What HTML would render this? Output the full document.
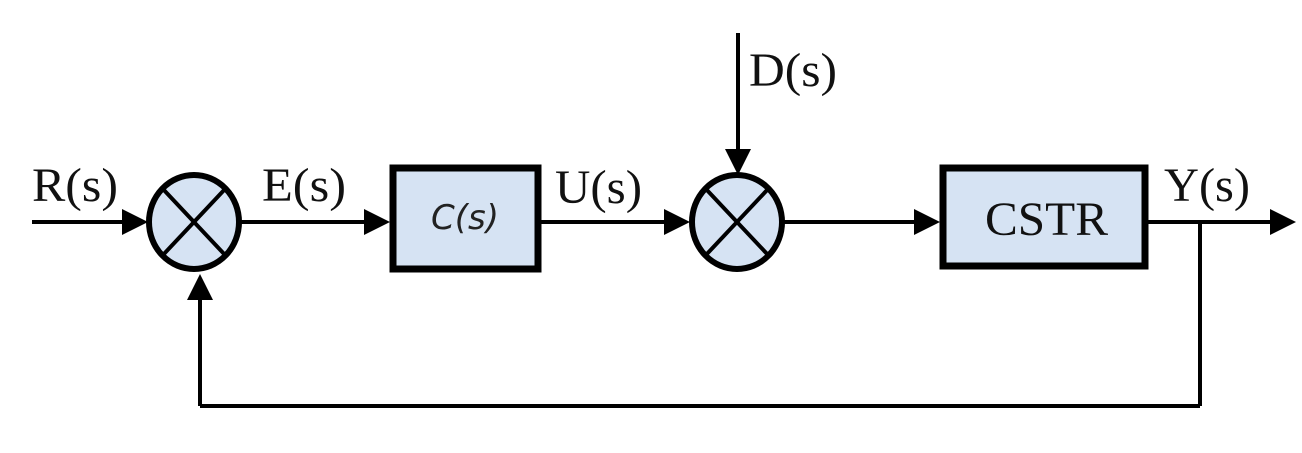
<!DOCTYPE html>
<html><head><meta charset="utf-8"><style>html,body{margin:0;padding:0;background:#fff;}</style></head>
<body>
<svg width="1302" height="448" viewBox="0 0 1302 448" xmlns="http://www.w3.org/2000/svg">
<g stroke="#000" stroke-width="4" fill="none">
<line x1="32" y1="222" x2="125" y2="222"/>
<line x1="240" y1="222" x2="370" y2="222"/>
<line x1="541" y1="222" x2="672" y2="222"/>
<line x1="784" y1="222" x2="920" y2="222"/>
<line x1="1148" y1="222" x2="1275" y2="222"/>
<line x1="738" y1="33" x2="738" y2="155"/>
<line x1="1200" y1="222" x2="1200" y2="406"/>
<line x1="1200" y1="406" x2="200" y2="406"/>
<line x1="200" y1="406" x2="200" y2="298"/>
</g>
<g fill="#000">
<polygon points="148,222 122,209 122,235"/>
<polygon points="390,222 364,209 364,235"/>
<polygon points="690,222 664,209 664,235"/>
<polygon points="940,222 914,209 914,235"/>
<polygon points="1296,222 1270,209 1270,235"/>
<polygon points="738,175 725,149 751,149"/>
<polygon points="200,274 187,300 213,300"/>
</g>
<g stroke="#000" stroke-width="6" fill="#d6e3f3">
<ellipse cx="194" cy="222" rx="45" ry="47"/>
<ellipse cx="737" cy="222" rx="45" ry="47"/>
</g>
<g stroke="#000" stroke-width="7" fill="#d6e3f3">
<rect x="393" y="168" width="145" height="101"/>
<rect x="943" y="168" width="202" height="98"/>
</g>
<g stroke="#000" stroke-width="4">
<line x1="162" y1="188" x2="226" y2="256"/>
<line x1="226" y1="188" x2="162" y2="256"/>
<line x1="705" y1="188" x2="769" y2="256"/>
<line x1="769" y1="188" x2="705" y2="256"/>
</g>
<g font-family="Liberation Serif, serif" font-size="48" fill="#111">
<text x="32" y="201" textLength="86" lengthAdjust="spacingAndGlyphs">R(s)</text>
<text x="262" y="201" textLength="84" lengthAdjust="spacingAndGlyphs">E(s)</text>
<text x="555" y="203" textLength="87" lengthAdjust="spacingAndGlyphs">U(s)</text>
<text x="749" y="86" textLength="88" lengthAdjust="spacingAndGlyphs">D(s)</text>
<text x="1164" y="201" textLength="86" lengthAdjust="spacingAndGlyphs">Y(s)</text>
<text x="985" y="235" font-size="48" textLength="123" lengthAdjust="spacingAndGlyphs">CSTR</text>
</g>
<text x="465" y="229" text-anchor="middle" font-family="DejaVu Sans, sans-serif" font-style="italic" font-size="34" fill="#222">C(s)</text>
</svg>
</body></html>
